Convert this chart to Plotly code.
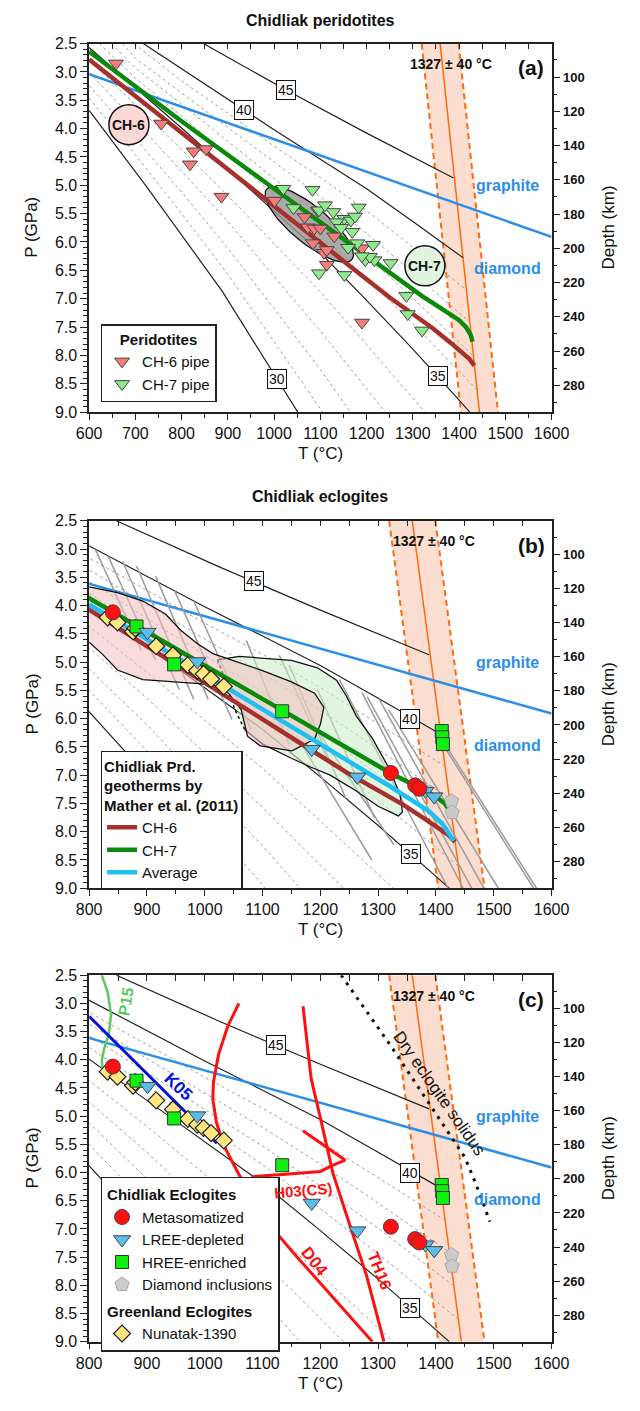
import plotly.graph_objects as go
import numpy as np

W, H = 640, 1411
FONT = "Arial, Liberation Sans, sans-serif"

# ---------------- reference lines (T in deg C, P in GPa) ----------------
geo30_T = [600, 723, 888, 1007, 1051]
geo30_P = [3.68, 5.01, 6.87, 8.42, 9.0]
geo35_T = [600, 700, 800, 900, 1000, 1100, 1200, 1300, 1400, 1423]
geo35_P = [2.57, 3.28, 3.99, 4.72, 5.46, 6.19, 7.03, 7.89, 8.79, 9.0]
geo40_T = [717, 800, 900, 1000, 1100, 1200, 1300, 1409]
geo40_P = [2.5, 2.95, 3.49, 4.02, 4.54, 5.06, 5.64, 6.28]
geo45_T = [847, 1026, 1200, 1388]
geo45_P = [2.5, 3.32, 4.08, 4.87]

# intermediate surface heat-flow geotherms (31-34, 36-39 mW/m2)
geo31_T = [600, 700, 800, 900, 1000, 1105]
geo31_P = [3.46, 4.46, 5.50, 6.57, 7.76, 9.0]
geo32_T = [600, 700, 800, 900, 1000, 1100, 1165]
geo32_P = [3.24, 4.17, 5.12, 6.11, 7.18, 8.25, 9.0]
geo33_T = [600, 700, 800, 900, 1000, 1100, 1200, 1240]
geo33_P = [3.01, 3.87, 4.75, 5.64, 6.61, 7.57, 8.59, 9.0]
geo34_T = [600, 700, 800, 900, 1000, 1100, 1200, 1300, 1326]
geo34_P = [2.79, 3.58, 4.37, 5.18, 6.03, 6.88, 7.81, 8.76, 9.0]
geo36_T = [622, 700, 800, 900, 1000, 1100, 1200, 1300, 1400, 1439]
geo36_P = [2.5, 3.11, 3.78, 4.47, 5.17, 5.86, 6.64, 7.44, 8.28, 8.61]
geo37_T = [648, 700, 800, 900, 1000, 1100, 1200, 1300, 1400, 1431]
geo37_P = [2.5, 2.93, 3.57, 4.23, 4.88, 5.53, 6.24, 6.99, 7.77, 8.01]
geo38_T = [672, 700, 800, 900, 1000, 1100, 1200, 1300, 1400, 1423]
geo38_P = [2.5, 2.76, 3.37, 3.98, 4.60, 5.20, 5.85, 6.54, 7.25, 7.41]
geo39_T = [697, 800, 900, 1000, 1100, 1200, 1300, 1400, 1415]
geo39_P = [2.5, 3.16, 3.73, 4.31, 4.86, 5.45, 6.09, 6.74, 6.84]

geo_labels = ["30", "35", "40", "45"]

# mantle adiabat 1327 +/- 40 C
adiabat_T = [1359, 1444]
adiabat_P = [2.5, 9.0]
adiabat_err = 40

# graphite-diamond transition
gd_T = [600, 1600]
gd_P = [3.04, 5.91]

# Mather et al. (2011) peridotite geotherms
ch6_T = [600, 800, 1000, 1160, 1250, 1343, 1382, 1405, 1422, 1433]
ch6_P = [2.78, 4.08, 5.37, 6.40, 6.98, 7.52, 7.78, 7.95, 8.06, 8.18]
ch7_T = [600, 800, 1000, 1162, 1250, 1321, 1376, 1400, 1415, 1425, 1429]
ch7_P = [2.64, 3.87, 5.06, 6.03, 6.55, 6.96, 7.25, 7.38, 7.50, 7.64, 7.76]
avg_T = [800, 1000, 1162, 1250, 1321, 1388, 1410, 1422, 1430]
avg_P = [3.98, 5.21, 6.20, 6.75, 7.20, 7.64, 7.85, 8.02, 8.16]

# ---------------- peridotite xenoliths ----------------
ch6_pipe_T = [658, 756, 826, 853, 818, 886, 1001, 1066, 1073, 1087, 1100, 1084, 1108,
              1114, 1114, 1190, 1190, 1130, 1095]
ch6_pipe_P = [2.85, 3.91, 4.40, 4.36, 4.63, 5.20, 5.27, 5.56, 5.74, 5.76, 5.76, 6.02, 6.19,
              6.14, 6.40, 6.11, 7.42, 5.90, 5.45]
ch7_pipe_T = [1020, 1083, 1042, 1183, 1097, 1128, 1152, 1166, 1135, 1169, 1180, 1214, 1197,
              1217, 1252, 1097, 1152, 1286, 1289, 1320, 1207, 1110, 1145, 1175, 1160, 1190]
ch7_pipe_P = [5.06, 5.08, 5.40, 5.39, 5.44, 5.47, 5.59, 5.62, 5.65, 5.82, 6.02, 6.05, 6.32,
              6.32, 6.37, 6.55, 6.58, 6.95, 7.27, 7.56, 6.26, 5.35, 5.75, 5.55, 6.10, 6.25]

# ---------------- eclogites ----------------
meta_T = [841, 1322, 1364, 1371]
meta_P = [4.12, 6.96, 7.18, 7.24]
lree_T = [901, 987, 1185, 1264, 1382, 1397]
lree_P = [4.47, 4.99, 6.54, 7.03, 7.28, 7.38]
hree_T = [882, 947, 1134, 1410, 1411, 1412]
hree_P = [4.37, 5.04, 5.87, 6.22, 6.33, 6.45]
dia_T = [1427, 1428]
dia_P = [7.46, 7.66]
nun_T = [832, 849, 876, 916, 945, 971, 987, 998, 1011, 1033, 880]
nun_P = [4.21, 4.30, 4.46, 4.72, 4.88, 5.05, 5.15, 5.21, 5.30, 5.43, 4.40]

# individual eclogite P-T solution lines: (T0, P0, T1, P1)
ecl_lines = [
    (811, 3.01, 890, 4.79), (833, 3.13, 915, 4.97), (858, 3.22, 956, 5.49),
    (882, 3.30, 981, 5.66), (915, 3.48, 1006, 5.66), (948, 3.74, 1047, 6.01),
    (981, 3.92, 1080, 6.19), (1072, 4.62, 1146, 6.45), (1129, 4.88, 1212, 6.71),
    (1146, 5.05, 1244, 7.41), (1195, 5.49, 1294, 7.76), (1190, 6.14, 1327, 8.23),
    (1162, 6.36, 1289, 8.50), (1233, 5.31, 1421, 9.0), (1272, 5.54, 1447, 9.0),
    (1281, 5.61, 1462, 9.0), (1302, 5.66, 1483, 9.0), (1318, 5.84, 1508, 9.0),
    (1414, 6.49, 1569, 9.0), (1421, 6.54, 1574, 9.0),
]

# eclogite P-T density fields
pink_T = [800, 849, 893, 932, 959, 987, 1014, 1050, 1100, 1150, 1190, 1206, 1200, 1190, 1151,
          1096, 1074, 1063, 1041, 1014, 932, 893, 849, 822, 800]
pink_P = [3.67, 3.77, 3.92, 4.15, 4.44, 4.67, 4.85, 4.98, 5.15, 5.35, 5.55, 5.80, 6.10, 6.36, 6.57,
          6.48, 6.31, 5.84, 5.55, 5.40, 5.34, 5.31, 5.14, 4.85, 4.65]
green_T = [1069, 1100, 1150, 1184, 1217, 1261, 1300, 1335, 1342, 1338, 1320, 1290, 1262, 1245,
           1228, 1195, 1150, 1060, 1022]
green_P = [6.19, 6.45, 6.70, 6.86, 7.00, 7.27, 7.55, 7.72, 7.65, 7.35, 6.90, 6.35, 5.95, 5.60,
           5.32, 5.10, 4.97, 4.90, 4.96]
green_dot_T = [1022, 1035, 1052, 1069]
green_dot_P = [4.96, 5.30, 5.84, 6.19]

# ---------------- experimental curves (panel c) ----------------
p15_T = [822, 832, 838, 834, 826, 822, 823, 828]
p15_P = [2.5, 2.8, 3.2, 3.55, 3.8, 4.0, 4.15, 4.25]
k05_T = [800, 1021]
k05_P = [3.23, 5.48]
d04_T = [1059, 1040, 1024, 1015, 1014, 1020, 1032, 1047, 1060, 1085, 1118, 1160, 1220, 1290]
d04_P = [3.0, 3.4, 3.9, 4.4, 4.7, 5.1, 5.5, 5.8, 6.05, 6.45, 7.0, 7.5, 8.2, 9.0]
h03_T = [1170, 1243, 1222, 1200, 1140, 1085, 1040, 1010, 995, 988, 986]
h03_P = [5.26, 5.78, 5.87, 5.98, 6.03, 6.07, 6.4, 7.0, 7.8, 8.5, 9.0]
th16_T = [1170, 1184, 1200, 1222, 1250, 1280, 1310]
th16_P = [3.05, 4.33, 5.03, 6.02, 6.9, 7.83, 9.0]
solidus_T = [1236, 1321, 1393, 1450, 1465, 1480, 1493]
solidus_P = [2.5, 3.74, 4.85, 5.73, 6.1, 6.49, 6.87]

# ---------------- styling ----------------
BLUE = "#2B8FE8"
C_CH6 = "#A8302C"
C_CH7 = "#0A8A0A"
C_AVG = "#1EC0F2"
ORANGE = "#FF6A10"

P_RANGE = [9.0, 2.5]
DEPTH = lambda p: 33.1 * p - 2.3
XDOM = [80 / W, 566 / W]
panels = [
    dict(x="x", y="y", xr=[600, 1600], top=36, bot=409),
    dict(x="x2", y="y2", xr=[800, 1600], top=519, bot=891),
    dict(x="x3", y="y3", xr=[800, 1600], top=979, bot=1350),
]

fig = go.Figure()


def line(px, T, P, color, width=1.2, dash=None, **kw):
    fig.add_trace(go.Scatter(x=T, y=P, xaxis=px["x"], yaxis=px["y"], mode="lines",
                             line=dict(color=color, width=width, dash=dash),
                             hoverinfo="skip", showlegend=kw.pop("showlegend", False), **kw))


def note(xx, yy, xref, yref, text, size, color="#111", angle=0, **kw):
    anns.append(dict(x=xx, y=yy, xref=xref, yref=yref, text=text, textangle=angle,
                     showarrow=False, xanchor="center", yanchor="middle",
                     font=dict(size=size, color=color), **kw))


dashed_geos = [(geo31_T, geo31_P), (geo32_T, geo32_P), (geo33_T, geo33_P), (geo34_T, geo34_P),
               (geo36_T, geo36_P), (geo37_T, geo37_P), (geo38_T, geo38_P), (geo39_T, geo39_P)]
solid_geos = [(geo30_T, geo30_P), (geo35_T, geo35_P), (geo40_T, geo40_P), (geo45_T, geo45_P)]

label_pos = [
    [(1007, 8.42), (1355, 8.37), (935, 3.68), (1026, 3.32)],
    [None, (1356, 8.39), (1355, 6.0), (1085, 3.57)],
    [None, (1355, 8.40), (1355, 6.0), (1124, 3.74)],
]
anns = []
shapes = []

for i, px in enumerate(panels):
    # adiabat band
    a0, a1 = adiabat_T
    fig.add_trace(go.Scatter(
        x=[a0 - adiabat_err, a0 + adiabat_err, a1 + adiabat_err, a1 - adiabat_err],
        y=[adiabat_P[0], adiabat_P[0], adiabat_P[1], adiabat_P[1]],
        xaxis=px["x"], yaxis=px["y"], fill="toself", fillcolor="rgba(247,190,160,0.5)",
        mode="none", hoverinfo="skip", showlegend=False))
    line(px, [a0 - adiabat_err, a1 - adiabat_err], adiabat_P, ORANGE, 2, "6px,4px")
    line(px, [a0 + adiabat_err, a1 + adiabat_err], adiabat_P, ORANGE, 2, "6px,4px")
    line(px, adiabat_T, adiabat_P, ORANGE, 1.5)

    for T, P in dashed_geos:
        line(px, T, P, "#a0a0a0", 1, "3px,3px")
    for T, P in solid_geos:
        line(px, T, P, "#222222", 1.2)

    line(px, gd_T, gd_P, BLUE, 2.5)

    for lab, pos in zip(geo_labels, label_pos[i]):
        if pos is None:
            continue
        note(pos[0], pos[1], px["x"], px["y"], lab, 14, bgcolor="white",
             bordercolor="#111", borderwidth=1, borderpad=1)
    note(1382 if i == 0 else 1396, 2.86, px["x"], px["y"], "<b>1327 ± 40 °C</b>", 14)
    note(1555 if i == 0 else 1565, 2.93, px["x"], px["y"], "<b>(%s)</b>" % "abc"[i], 21)
    note(1505 if i == 0 else 1524, 5.0, px["x"], px["y"], "<b>graphite</b>", 16, BLUE)
    note(1505 if i == 0 else 1524, 6.47, px["x"], px["y"], "<b>diamond</b>", 16, BLUE)

pa, pb, pc = panels

# ---------- panel a ----------
t = np.linspace(0, 2 * np.pi, 90)
ell_c = (1076, 5.69)
ell_major = (93.0, 0.61)
ell_minor = (-22.0, 0.27)
fig.add_trace(go.Scatter(
    x=ell_c[0] + np.cos(t) * ell_major[0] + np.sin(t) * ell_minor[0],
    y=ell_c[1] + np.cos(t) * ell_major[1] + np.sin(t) * ell_minor[1],
    xaxis="x", yaxis="y", fill="toself", fillcolor="rgba(150,150,150,0.8)",
    line=dict(color="#111", width=1.3), mode="lines", hoverinfo="skip", showlegend=False))
line(pa, ch6_T, ch6_P, C_CH6, 4.5)
line(pa, ch7_T, ch7_P, C_CH7, 4.5)

fig.add_trace(go.Scatter(x=ch6_pipe_T, y=ch6_pipe_P, xaxis="x", yaxis="y", mode="markers",
                         name="CH-6 pipe", legend="legend", hoverinfo="skip",
                         marker=dict(symbol="triangle-down", size=13, color="#F77B78",
                                     line=dict(color="#444", width=1))))
fig.add_trace(go.Scatter(x=ch7_pipe_T, y=ch7_pipe_P, xaxis="x", yaxis="y", mode="markers",
                         name="CH-7 pipe", legend="legend", hoverinfo="skip",
                         marker=dict(symbol="triangle-down", size=13, color="#8FEA8C",
                                     line=dict(color="#444", width=1))))

for (cx, cy, txt, fc) in [(686, 3.93, "CH-6", "#F9D8D6"), (1326, 6.42, "CH-7", "#E1F4E0")]:
    shapes.append(dict(type="circle", xref="x", yref="y", xsizemode="pixel", ysizemode="pixel",
                       xanchor=cx, yanchor=cy, x0=-20, x1=20, y0=-20, y1=20,
                       fillcolor=fc, line=dict(color="#111", width=1.5), layer="above"))
    note(cx, cy, "x", "y", "<b>%s</b>" % txt, 14)

# ---------- panel b ----------
for t0, p0, t1, p1 in ecl_lines:
    line(pb, [t0, t1], [p0, p1], "#9c9c9c", 1.5)
fig.add_trace(go.Scatter(x=green_T, y=green_P, xaxis="x2", yaxis="y2", fill="toself",
                         fillcolor="rgba(200,236,200,0.55)", mode="lines",
                         line=dict(color="#111", width=1.3), hoverinfo="skip", showlegend=False))
line(pb, green_dot_T, green_dot_P, "#111", 1.5, "dot")
fig.add_trace(go.Scatter(x=pink_T, y=pink_P, xaxis="x2", yaxis="y2", fill="toself",
                         fillcolor="rgba(242,190,190,0.55)", mode="lines",
                         line=dict(color="#111", width=1.3), hoverinfo="skip", showlegend=False))
line(pb, ch6_T, ch6_P, C_CH6, 4.5, name="CH-6", showlegend=True, legend="legend2")
line(pb, ch7_T, ch7_P, C_CH7, 4.5, name="CH-7", showlegend=True, legend="legend2")
line(pb, avg_T, avg_P, C_AVG, 4.5, name="Average", showlegend=True, legend="legend2")

# ---------- panel c curves ----------
line(pc, p15_T, p15_P, "#5CC95C", 2.5)
line(pc, k05_T, k05_P, "#0010DD", 3)
line(pc, d04_T, d04_P, "#FF1010", 3)
line(pc, h03_T, h03_P, "#FF1010", 3)
line(pc, th16_T, th16_P, "#FF1010", 3)
line(pc, solidus_T, solidus_P, "#111", 3, "3px,6px")

for txt, xx, yy, ang, col, size in [
    ("<b>P15</b>", 864, 2.97, -80, "#5CC95C", 16),
    ("<b>K05</b>", 954, 4.47, 44, "#0010DD", 17),
    ("<b>H03(CS)</b>", 1170, 6.31, -5, "#FF1010", 15),
    ("<b>D04</b>", 1190, 7.57, 52, "#FF1010", 17),
    ("<b>TH16</b>", 1302, 7.74, 68, "#FF1010", 16),
    ("Dry eclogite solidus", 1406, 4.59, 55, "#111", 17),
]:
    note(xx, yy, "x3", "y3", txt, size, col, ang)

# ---------- eclogite markers (panels b and c) ----------
ecl_sets = [
    ("Metasomatized", meta_T, meta_P, dict(symbol="circle", size=15, color="#FF1010",
                                            line=dict(color="#444", width=1)), "chid"),
    ("LREE-depleted", lree_T, lree_P, dict(symbol="triangle-down", size=15, color="#5BBDEB",
                                            line=dict(color="#444", width=1)), "chid"),
    ("HREE-enriched", hree_T, hree_P, dict(symbol="square", size=13, color="#10F010",
                                            line=dict(color="#333", width=1)), "chid"),
    ("Diamond inclusions", dia_T, dia_P, dict(symbol="pentagon", size=15, color="#CACACA",
                                               line=dict(color="#A8A8A8", width=1)), "chid"),
    ("Nunatak-1390", nun_T, nun_P, dict(symbol="diamond", size=13, color="#FFE680",
                                         line=dict(color="#222", width=1.2)), "green"),
]
group_titles = {"chid": "<b>Chidliak Eclogites</b>", "green": "<b>Greenland Eclogites</b>"}
draw_order = [4, 2, 1, 0, 3]
for px in (pb, pc):
    for k in draw_order:
        name, T, P, mk, grp = ecl_sets[k]
        if px is pc:
            kw = dict(showlegend=True, legend="legend3", legendgroup=grp, legendrank=k + 1,
                      legendgrouptitle=dict(text=group_titles[grp],
                                            font=dict(size=15, color="#111")))
        else:
            kw = dict(showlegend=False)
        fig.add_trace(go.Scatter(x=T, y=P, xaxis=px["x"], yaxis=px["y"], mode="markers",
                                 name=name, marker=mk, hoverinfo="skip", **kw))

# ---------- axes ----------
layout = dict(
    width=W, height=H, margin=dict(l=0, r=0, t=0, b=0),
    paper_bgcolor="white", plot_bgcolor="rgba(0,0,0,0)",
    font=dict(family=FONT, color="#111"),
)
AX = dict(showline=True, linecolor="#222", linewidth=1.5, showgrid=False, zeroline=False,
          tickcolor="#222", tickwidth=1.2)
for i, px in enumerate(panels, start=1):
    ydom = [1 - px["bot"] / H, 1 - px["top"] / H]
    sx = "" if i == 1 else str(i)
    layout["xaxis" + sx] = dict(AX, domain=XDOM, range=px["xr"], anchor=px["y"], ticks="outside",
                                ticklen=6, dtick=100, tick0=0,
                                minor=dict(dtick=50, ticklen=4, ticks="outside", tickcolor="#222"),
                                tickfont=dict(size=16))
    layout["xaxis%d" % (i + 3)] = dict(AX, domain=XDOM, range=px["xr"], anchor=px["y"],
                                        overlaying=px["x"], side="top", ticks="inside",
                                        ticklen=6, dtick=50, tick0=0, showticklabels=False)
    layout["yaxis" + sx] = dict(AX, domain=ydom, range=P_RANGE, anchor=px["x"], ticks="outside",
                                ticklen=7, dtick=0.5, tick0=2.5, tickformat=".1f",
                                minor=dict(dtick=0.1, ticklen=4, ticks="outside", tickcolor="#222"),
                                tickfont=dict(size=16))
    layout["yaxis%d" % (i + 3)] = dict(AX, domain=ydom, range=[DEPTH(9.0), DEPTH(2.5)],
                                        anchor=px["x"], overlaying=px["y"], side="right",
                                        ticks="outside", ticklen=7, dtick=20, tick0=0,
                                        minor=dict(dtick=10, ticklen=4, ticks="outside",
                                                   tickcolor="#222"),
                                        tickfont=dict(size=13, weight="bold"))
    # empty traces so overlay axes are rendered
    fig.add_trace(go.Scatter(x=[None], y=[None], xaxis="x%d" % (i + 3), yaxis=px["y"],
                             showlegend=False, hoverinfo="skip"))
    fig.add_trace(go.Scatter(x=[None], y=[None], xaxis=px["x"], yaxis="y%d" % (i + 3),
                             showlegend=False, hoverinfo="skip"))
    cy = 1 - (px["top"] + px["bot"]) / 2 / H
    note(20 / W, cy, "paper", "paper", "P (GPa)", 17, angle=-90)
    note(626 / W, cy, "paper", "paper", "Depth (km)", 17, angle=-90)
    note(323 / W, 1 - (px["bot"] + 42) / H, "paper", "paper", "T (°C)", 17)

note(323 / W, 1 - 13 / H, "paper", "paper", "<b>Chidliak peridotites</b>", 16)
note(323 / W, 1 - 494 / H, "paper", "paper", "<b>Chidliak eclogites</b>", 16)

LEG = dict(xanchor="left", yanchor="top", bgcolor="white", bordercolor="#222", borderwidth=1.5,
           font=dict(size=15, color="#111"), itemwidth=30)
layout["legend"] = dict(LEG, x=92 / W, y=1 - 320 / H,
                        title=dict(text="<b>Peridotites</b>", side="top center",
                                   font=dict(size=15)))
layout["legend2"] = dict(LEG, x=92 / W, y=1 - 752 / H,
                         title=dict(text="<b>Chidliak Prd.<br>geotherms by<br>Mather et al. (2011)</b>",
                                    side="top", font=dict(size=15)))
layout["legend3"] = dict(LEG, x=92 / W, y=1 - 1183 / H, tracegroupgap=4)
layout["annotations"] = anns
layout["shapes"] = shapes
fig.update_layout(**layout)

fig.write_html("out.html")
